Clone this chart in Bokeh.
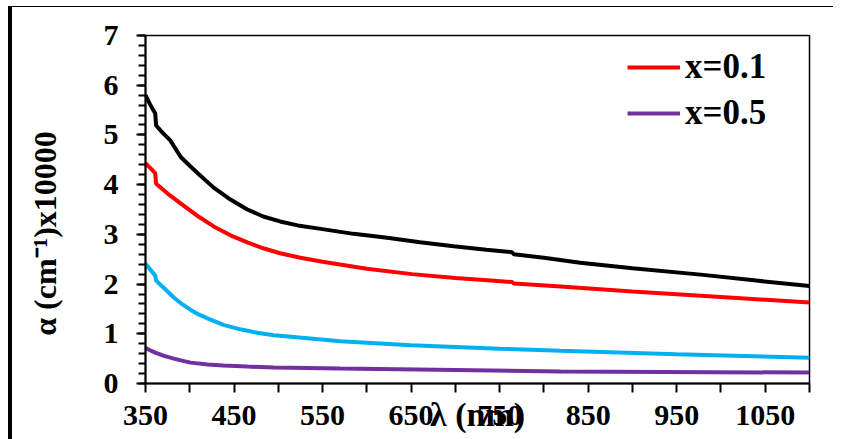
import math
from bokeh.plotting import figure
from bokeh.models import Range1d, FixedTicker, SingleIntervalTicker, Legend, LegendItem
from bokeh.embed import file_html
from bokeh.resources import INLINE

# ---- data ----
wl_black = [350, 355, 361, 362, 370, 378, 390, 400, 409, 427, 446, 465, 483, 502, 522, 548, 585, 623,
            660, 698, 735, 764, 766, 800, 841, 900, 977, 1040, 1100]
a_black = [5.80, 5.62, 5.43, 5.19, 5.03, 4.89, 4.55, 4.38, 4.23, 3.94, 3.70, 3.50, 3.36, 3.26, 3.18, 3.11, 3.01, 2.93,
           2.84, 2.76, 2.69, 2.64, 2.60, 2.53, 2.43, 2.32, 2.19, 2.07, 1.96]

wl_red = [350, 361, 362, 375, 390, 408, 427, 446, 465, 483, 502, 525, 550, 600, 651, 700, 748, 764, 766,
          819, 900, 1000, 1100]
a_red = [4.43, 4.23, 4.02, 3.82, 3.62, 3.38, 3.16, 2.98, 2.84, 2.72, 2.62, 2.53, 2.45, 2.31, 2.20, 2.12, 2.06, 2.04, 2.01,
         1.95, 1.85, 1.74, 1.63]

wl_blue = [350, 361, 362, 372, 382, 391, 401, 410, 420, 438, 457, 476, 495, 533, 570, 650, 750, 819, 950, 1100]
a_blue = [2.41, 2.17, 2.07, 1.90, 1.73, 1.60, 1.48, 1.39, 1.31, 1.18, 1.09, 1.02, 0.97, 0.91, 0.85, 0.77, 0.70, 0.66, 0.59, 0.52]

wl_purple = [350, 355, 361, 370, 382, 391, 401, 420, 438, 465, 495, 570, 700, 819, 1100]
a_purple = [0.72, 0.67, 0.62, 0.56, 0.50, 0.46, 0.42, 0.38, 0.36, 0.34, 0.32, 0.30, 0.27, 0.24, 0.22]

x_tick_labels = [350, 450, 550, 650, 750, 850, 950, 1050]
x_minor = [400, 500, 600, 700, 800, 900, 1000, 1100]
legend_labels = ["x=0.1", "x=0.5"]
x_title = "λ (nm)"
y_title = "α  (cm⁻¹)x10000" + "\u00a0" * 5

FONT = "Liberation Serif"

p = figure(width=833, height=439, output_backend="svg", toolbar_location=None,
           x_range=Range1d(350, 1100), y_range=Range1d(0, 7),
           min_border_left=145, min_border_right=24, min_border_top=35, min_border_bottom=56)
p.frame_width = 664
p.frame_height = 348
p.border_fill_alpha = 0
p.background_fill_color = "white"
p.outline_line_color = "black"
p.outline_line_width = 1.5
p.xgrid.visible = False
p.ygrid.visible = False
p.styles = {"box-shadow": "inset 8px 0 0 0 white, inset 0 6px 0 0 white, "
                          "inset 12px 0 0 0 black, inset 0 7px 0 0 black"}

# axes
xa = p.xaxis[0]
xa.ticker = FixedTicker(ticks=x_tick_labels, minor_ticks=x_minor)
xa.axis_line_width = 2
xa.major_tick_line_width = 2
xa.minor_tick_line_width = 2
xa.major_tick_out = 9
xa.major_tick_in = 0
xa.minor_tick_out = 9
xa.minor_tick_in = 0
xa.major_label_text_font = FONT
xa.major_label_text_font_style = "bold"
xa.major_label_text_font_size = "30px"
xa.major_label_text_color = "black"
xa.major_label_standoff = 13
xa.axis_label = x_title
xa.axis_label_text_font = FONT
xa.axis_label_text_font_style = "bold"
xa.axis_label_text_font_size = "34px"
xa.axis_label_text_color = "black"
xa.axis_label_standoff = -32

ya = p.yaxis[0]
ya.ticker = SingleIntervalTicker(interval=1, num_minor_ticks=5)
ya.axis_line_width = 2
ya.major_tick_line_width = 2
ya.minor_tick_line_width = 2
ya.major_tick_out = 9
ya.major_tick_in = 0
ya.minor_tick_out = 7
ya.minor_tick_in = 0
ya.major_label_text_font = FONT
ya.major_label_text_font_style = "bold"
ya.major_label_text_font_size = "30px"
ya.major_label_text_color = "black"
ya.major_label_standoff = 18
ya.axis_label = y_title
ya.axis_label_text_font = FONT
ya.axis_label_text_font_style = "bold"
ya.axis_label_text_font_size = "32px"
ya.axis_label_text_color = "black"
ya.axis_label_standoff = 38

# series
r_black = p.line(wl_black, a_black, line_color="black", line_width=4)
r_red = p.line(wl_red, a_red, line_color="#FF0000", line_width=4)
r_blue = p.line(wl_blue, a_blue, line_color="#00B0F0", line_width=4)
r_purple = p.line(wl_purple, a_purple, line_color="#7030A0", line_width=4)

legend = Legend(items=[LegendItem(label=legend_labels[0], renderers=[r_red]),
                       LegendItem(label=legend_labels[1], renderers=[r_purple])],
                location=(482, 247))
legend.background_fill_alpha = 0
legend.border_line_alpha = 0
legend.padding = 0
legend.spacing = 0
legend.margin = 0
legend.glyph_width = 53
legend.glyph_height = 46
legend.label_height = 46
legend.label_standoff = 5
legend.label_text_font = FONT
legend.label_text_font_style = "bold"
legend.label_text_font_size = "35px"
legend.label_text_color = "black"
p.add_layout(legend, "center")

open("out.html", "w").write(file_html(p, INLINE))
